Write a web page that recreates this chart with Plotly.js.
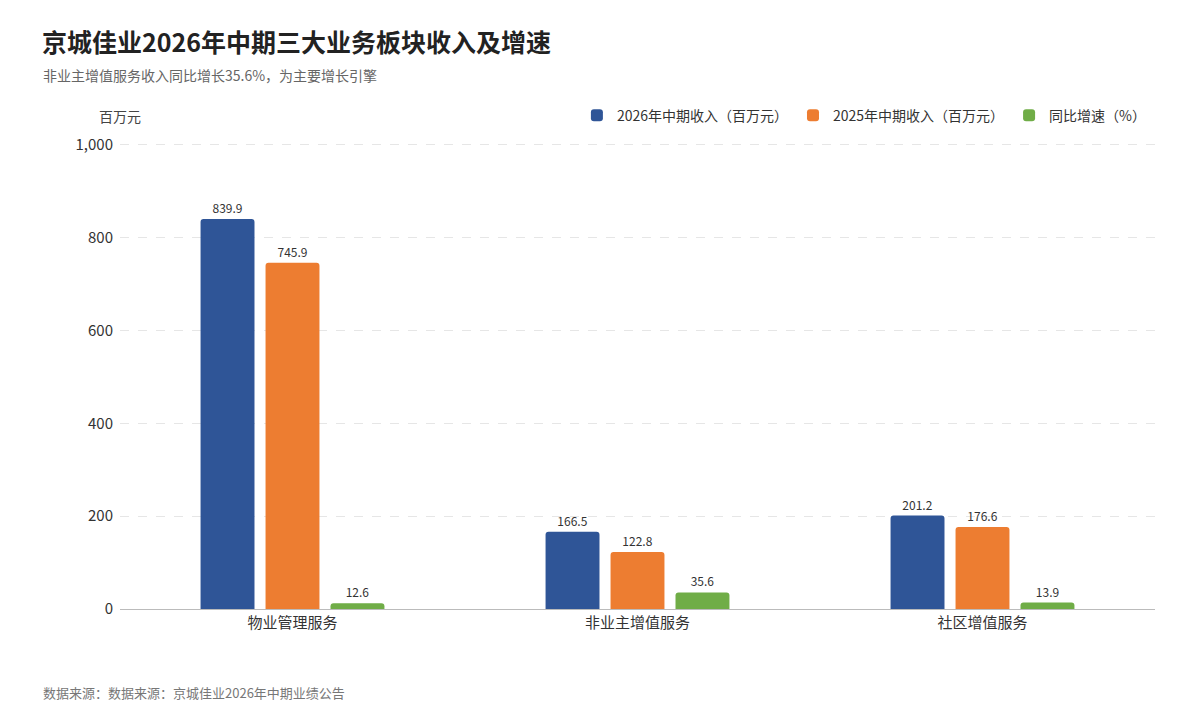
<!DOCTYPE html>
<html>
<head>
<meta charset="utf-8">
<script src="https://cdn.plot.ly/plotly-3.0.1.min.js"></script>
<style>
  html, body { margin: 0; padding: 0; background: #fff; }
  #chart { width: 1200px; height: 720px; }
</style>
</head>
<body>
<div id="chart"></div>
<script>
// Data
const categories = ['物业管理服务', '非业主增值服务', '社区增值服务'];
const revenue2026 = [839.9, 166.5, 201.2];
const revenue2025 = [745.9, 122.8, 176.6];
const growthRate = [12.6, 35.6, 13.9];
const seriesNames = ['2026年中期收入（百万元）', '2025年中期收入（百万元）', '同比增速（%）'];
const tickValues = [0, 200, 400, 600, 800, 1000];
const tickLabels = ['0', '200', '400', '600', '800', '1,000'];

const FONT = '"Noto Sans CJK SC", "Noto Sans", sans-serif';
const colors = ['#2f5597', '#ed7d31', '#70ad47'];

function makeTrace(values, name, color) {
    return {
        x: categories,
        y: values,
        name: name,
        type: 'bar',
        marker: { color: color },
        text: values.map(v => v.toFixed(1)),
        textposition: 'outside',
        cliponaxis: false,
        textfont: { family: FONT, size: 12, color: '#333' },
        hoverinfo: 'x+y+name',
    };
}

const data = [
    makeTrace(revenue2026, seriesNames[0], colors[0]),
    makeTrace(revenue2025, seriesNames[1], colors[1]),
    makeTrace(growthRate, seriesNames[2], colors[2]),
];

const layout = {
    width: 1200,
    height: 720,
    paper_bgcolor: '#fff',
    plot_bgcolor: '#fff',
    font: { family: FONT, color: '#333' },
    barmode: 'group',
    bargap: 0.435,
    bargroupgap: 0.17,
    barcornerradius: 3,
    margin: { t: 140.4, l: 120, r: 45, b: 111 },
    showlegend: true,
    legend: {
        orientation: 'h',
        x: 0.997,
        xanchor: 'right',
        y: 1.052,
        yanchor: 'middle',
        font: { family: FONT, size: 14, color: '#333' },
        traceorder: 'normal',
        itemwidth: 30,
    },
    xaxis: {
        type: 'category',
        showgrid: false,
        showline: true,
        linecolor: '#bbb',
        linewidth: 1,
        ticks: '',
        tickfont: { family: FONT, size: 15, color: '#333' },
    },
    yaxis: {
        range: [0, 1010],
        tickvals: tickValues,
        ticktext: tickLabels,
        showgrid: true,
        gridcolor: '#e6e6e6',
        griddash: 'dash',
        zeroline: false,
        ticks: '',
        ticklen: 0,
        ticklabelstandoff: 6,
        tickfont: { family: FONT, size: 15, color: '#333' },
    },
    annotations: [
        {
            xref: 'paper', yref: 'paper', x: 0, y: 1.052,
            xanchor: 'center', yanchor: 'middle',
            text: '百万元', showarrow: false,
            font: { family: FONT, size: 14, color: '#444' },
        },
        {
            xref: 'paper', yref: 'paper', x: -0.0766, y: 1.1396,
            xanchor: 'left', yanchor: 'middle',
            text: '非业主增值服务收入同比增长35.6%，为主要增长引擎', showarrow: false,
            font: { family: FONT, size: 14, color: '#666' },
        },
        {
            xref: 'paper', yref: 'paper', x: -0.0766, y: -0.179,
            xanchor: 'left', yanchor: 'middle',
            text: '数据来源：数据来源：京城佳业2026年中期业绩公告', showarrow: false,
            font: { family: FONT, size: 13, color: '#777' },
        },
    ],
    title: {
        text: '<b>京城佳业2026年中期三大业务板块收入及增速</b>',
        x: 0.035,
        xanchor: 'left',
        y: 0.94,
        yanchor: 'middle',
        font: { family: FONT, size: 25, color: '#222' },
    },
};

Plotly.newPlot('chart', data, layout, { displayModeBar: false });
</script>
</body>
</html>
